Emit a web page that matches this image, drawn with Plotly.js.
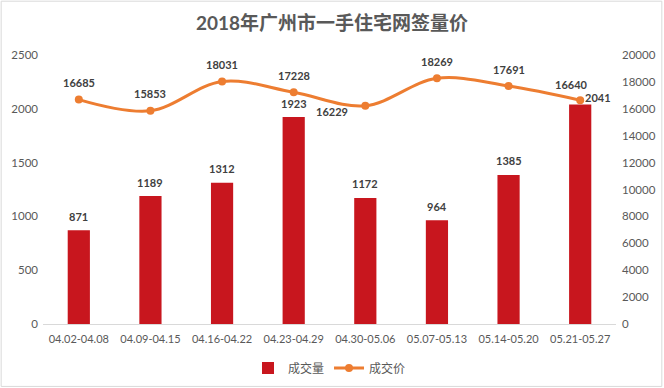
<!DOCTYPE html>
<html>
<head>
<meta charset="utf-8">
<script src="https://cdn.plot.ly/plotly-3.0.1.min.js"></script>
<style>html,body{margin:0;padding:0;background:#fff;}#chart{width:664px;height:388px;}</style>
</head>
<body>
<div id="chart"></div>
<script>
const categories = ['04.02-04.08','04.09-04.15','04.16-04.22','04.23-04.29','04.30-05.06','05.07-05.13','05.14-05.20','05.21-05.27'];
const volume = [871, 1189, 1312, 1923, 1172, 964, 1385, 2041];
const price = [16685, 15853, 18031, 17228, 16229, 18269, 17691, 16640];
const leftTicks = [0, 500, 1000, 1500, 2000, 2500];
const rightTicks = [0, 2000, 4000, 6000, 8000, 10000, 12000, 14000, 16000, 18000, 20000];

const numFont = 'Lato, "Noto Sans CJK SC", sans-serif';
const cjkFont = '"Noto Sans CJK SC", sans-serif';
const tickColor = '#595959';
const labelColor = '#404040';

const bars = {
  type: 'bar', name: '成交量', x: categories, y: volume,
  marker: {color: '#C8161E'}, yaxis: 'y', hoverinfo: 'skip'
};
const line = {
  type: 'scatter', mode: 'lines+markers', name: '成交价', x: categories, y: price,
  line: {color: '#ED7D31', width: 3, shape: 'spline', smoothing: 1},
  marker: {color: '#ED7D31', size: 8}, yaxis: 'y2', hoverinfo: 'skip'
};

// label offsets (style, not data)
const barShift = volume.map((v, i) => i === volume.length - 1 ? {x: 18, y: 7} : {x: 0, y: 14});
const lineShift = price.map((v, i) => i === 4 ? {x: -33, y: -6} : (i === 7 ? {x: -9, y: 16} : {x: 0, y: 17}));

const annotations = [];
volume.forEach((v, i) => annotations.push({
  x: categories[i], y: v, xref: 'x', yref: 'y', text: String(v), showarrow: false,
  xshift: barShift[i].x, yshift: barShift[i].y, yanchor: 'middle',
  font: {family: numFont, size: 11, color: labelColor, weight: 700}
}));
price.forEach((v, i) => annotations.push({
  x: categories[i], y: v, xref: 'x', yref: 'y2', text: String(v), showarrow: false,
  xshift: lineShift[i].x, yshift: lineShift[i].y, yanchor: 'middle',
  font: {family: numFont, size: 11, color: labelColor, weight: 700}
}));

const layout = {
  width: 664, height: 388,
  margin: {l: 43, r: 48, t: 55, b: 64, autoexpand: false},
  paper_bgcolor: '#fff', plot_bgcolor: '#fff',
  title: {text: '2018年广州市一手住宅网签量价', x: 0.5, xanchor: 'center', y: 0.94, yanchor: 'middle',
    font: {family: 'Lato, "Noto Sans CJK SC", sans-serif', size: 19, color: '#595959', weight: 700}},
  showlegend: true,
  legend: {orientation: 'h', x: 0.5, xanchor: 'center', y: -0.164, yanchor: 'middle',
    font: {family: cjkFont, size: 12, color: tickColor}, itemwidth: 30, traceorder: 'normal'},
  bargap: 0.69,
  xaxis: {type: 'category', showgrid: false, zeroline: false, showline: true, linecolor: '#d9d9d9', linewidth: 1,
    ticks: '', ticklabelstandoff: 5, tickfont: {family: numFont, size: 11, color: tickColor}, fixedrange: true},
  yaxis: {range: [0, 2500], tickvals: leftTicks, showgrid: false, zeroline: false, showline: false,
    ticks: '', ticklabelstandoff: 4, tickfont: {family: numFont, size: 11.5, color: tickColor}},
  yaxis2: {range: [0, 20000], tickvals: rightTicks, tickformat: 'd', overlaying: 'y', side: 'right', showgrid: false,
    zeroline: false, showline: false, ticks: '', ticklabelstandoff: 5,
    tickfont: {family: numFont, size: 11.5, color: tickColor}},
  annotations: annotations,
  shapes: [{type: 'rect', xref: 'paper', yref: 'paper', x0: -0.073, x1: 1.08, y0: -0.232, y1: 1.2,
    line: {color: '#d9d9d9', width: 1}, layer: 'below'}]
};

Plotly.newPlot('chart', [bars, line], layout, {displayModeBar: false, staticPlot: true});
</script>
</body>
</html>
